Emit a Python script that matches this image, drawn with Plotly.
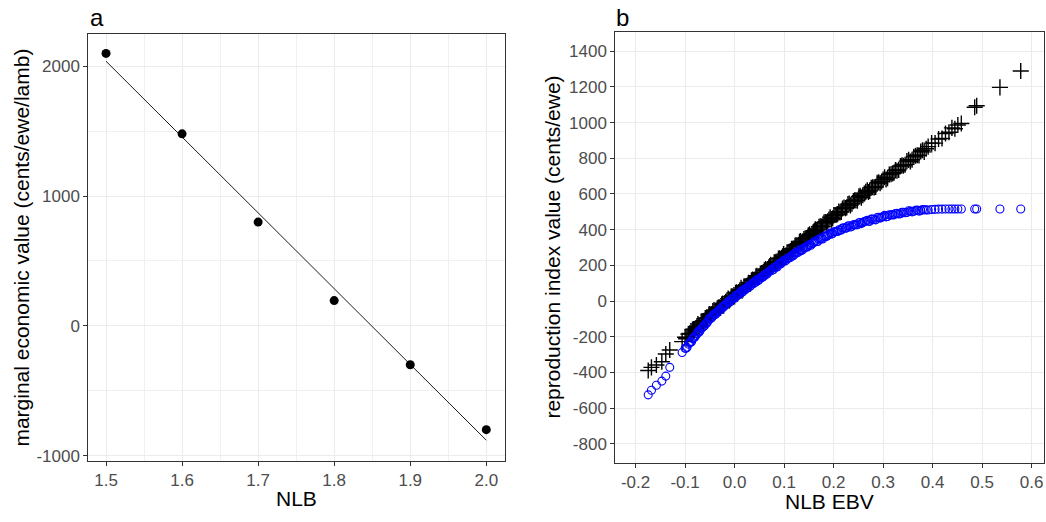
import numpy as np
import plotly.graph_objects as go

# ---------------- panel a data ----------------
nlb = [1.5, 1.6, 1.7, 1.8, 1.9, 2.0]
marginal_value = [2100, 1480, 800, 195, -300, -800]

# ---------------- panel b data ----------------
ebv_low = [-0.1745, -0.168, -0.158, -0.147, -0.139, -0.131, -0.106]
black_low = [-389, -371, -358, -340, -296, -274, -227]
blue_low = [-525, -499, -471, -448, -420, -371, -288]

ebv_main = [
    -0.100, -0.096, -0.091, -0.087, -0.083, -0.078, -0.074, -0.070, -0.065, -0.061,
    -0.057, -0.052, -0.048, -0.044, -0.039, -0.035, -0.031, -0.026, -0.022, -0.018,
    -0.013, -0.009, -0.005, 0.000, 0.004, 0.008, 0.013, 0.017, 0.021, 0.026,
    0.030, 0.034, 0.039, 0.043, 0.047, 0.052, 0.056, 0.060, 0.065, 0.069,
    0.073, 0.078, 0.082, 0.086, 0.091, 0.095, 0.099, 0.104, 0.108, 0.113,
    0.117, 0.122, 0.126, 0.131, 0.135, 0.140, 0.145, 0.149, 0.154, 0.159,
    0.163, 0.168, 0.173, 0.178, 0.183, 0.188, 0.193, 0.198, 0.203, 0.208,
    0.213, 0.218, 0.224, 0.229, 0.234, 0.240, 0.245, 0.251, 0.256, 0.262,
    0.268, 0.273, 0.279, 0.285, 0.291, 0.297, 0.303, 0.309, 0.316, 0.322,
    0.328, 0.335, 0.341, 0.348, 0.355, 0.362, 0.369, 0.376, 0.383, 0.391,
    0.398, 0.405, 0.412, 0.419, 0.426, 0.433, 0.439, 0.445, 0.451, 0.458,
]
black_main = [
    -202, -204, -181, -182, -157, -151, -128, -135, -114, -109,
    -98, -75, -76, -55, -61, -40, -36, -18, -25, -4,
    14, 9, 27, 26, 49, 51, 74, 65, 82, 88,
    96, 117, 118, 139, 130, 153, 157, 173, 168, 189,
    204, 201, 218, 215, 240, 242, 263, 257, 274, 280,
    287, 310, 309, 332, 324, 347, 353, 369, 364, 387,
    402, 399, 419, 418, 443, 447, 470, 464, 482, 487,
    496, 519, 521, 543, 536, 560, 565, 585, 579, 603,
    621, 617, 638, 639, 665, 670, 694, 689, 711, 719,
    730, 756, 758, 784, 782, 808, 817, 838, 836, 865,
    885, 885, 908, 911, 939, 946, 970, 965, 986, 995,
]
blue_main = [
    -264, -259, -234, -228, -205, -192, -171, -168, -147, -138,
    -125, -101, -97, -78, -75, -59, -52, -34, -33, -18,
    -4, -4, 13, 16, 33, 38, 55, 53, 67, 73,
    81, 97, 100, 116, 114, 130, 135, 148, 150, 164,
    175, 176, 191, 191, 210, 214, 229, 228, 240, 245,
    253, 270, 270, 286, 283, 297, 303, 314, 313, 327,
    336, 334, 349, 348, 364, 367, 381, 378, 389, 390,
    396, 409, 408, 421, 415, 427, 428, 439, 434, 445,
    452, 447, 459, 455, 469, 469, 480, 474, 483, 483,
    492, 489, 498, 496, 504, 503, 510, 507, 511, 510,
    513, 514, 515, 515, 516, 516, 516, 516, 516, 516,
]

ebv_mid = [
    -0.098, -0.0935, -0.089, -0.085, -0.0805, -0.076, -0.072, -0.0675, -0.063, -0.059,
    -0.0545, -0.050, -0.046, -0.0415, -0.037, -0.033, -0.0285, -0.024, -0.020, -0.0155,
    -0.011, -0.007, -0.0025, 0.002, 0.006, 0.0105, 0.015, 0.019, 0.0235, 0.028,
    0.032, 0.0365, 0.041, 0.045, 0.0495, 0.054, 0.058, 0.0625, 0.067, 0.071,
    0.0755, 0.080, 0.084, 0.0885, 0.093, 0.097, 0.1015, 0.106, 0.1105, 0.115,
    0.1195, 0.124, 0.1285, 0.133, 0.1375, 0.1425, 0.147, 0.1515, 0.1565, 0.161,
    0.1655, 0.1705, 0.1755, 0.1805, 0.1855, 0.1905, 0.1955, 0.2005, 0.2055, 0.2105,
    0.2155, 0.221, 0.2265, 0.2315, 0.237, 0.2425, 0.248, 0.2535, 0.259, 0.265,
    0.2705, 0.276, 0.282, 0.288, 0.294, 0.300, 0.306, 0.3125, 0.319, 0.325,
    0.3315, 0.338, 0.3445, 0.3515, 0.3585, 0.3655, 0.3725, 0.3795, 0.387,
]
black_mid = [
    -211, -185, -182, -159, -160, -140, -142, -115, -112, -95,
    -95, -72, -73, -50, -53, -36, -38, -13, -12, 5,
    3, 25, 25, 47, 43, 61, 59, 83, 85, 102,
    98, 121, 121, 142, 139, 157, 154, 179, 180, 196,
    194, 217, 216, 238, 235, 251, 249, 274, 276, 293,
    291, 314, 314, 336, 333, 352, 349, 374, 377, 394,
    392, 416, 417, 440, 438, 457, 456, 482, 484, 501,
    499, 524, 525, 547, 545, 564, 563, 590, 593, 612,
    611, 635, 637, 662, 661, 681, 681, 709, 715, 734,
    735, 761, 764, 791, 792, 814, 816, 845, 853,
]
blue_mid = [
    -264, -241, -231, -210, -202, -182, -174, -153, -143, -126,
    -117, -96, -92, -73, -69, -54, -48, -30, -25, -10,
    -6, 10, 14, 31, 31, 46, 49, 65, 70, 83,
    85, 101, 104, 119, 120, 134, 136, 152, 158, 170,
    173, 189, 191, 207, 208, 221, 224, 239, 243, 255,
    257, 272, 274, 288, 288, 301, 303, 317, 321, 332,
    333, 347, 349, 363, 362, 374, 375, 388, 390, 399,
    398, 411, 410, 422, 419, 429, 428, 440, 440, 449,
    447, 459, 457, 468, 465, 474, 472, 483, 483, 491,
    488, 498, 495, 506, 500, 508, 504, 513, 511,
]

ebv_high = [0.485, 0.489, 0.536, 0.578]
black_high = [1086, 1094, 1197, 1289]
blue_high = [516, 516, 516, 516]

ebv = ebv_low + ebv_main + ebv_mid + ebv_high
index_linear = black_low + black_main + black_mid + black_high
index_nonlinear = blue_low + blue_main + blue_mid + blue_high

# ---------------- tick labels ----------------
a_xticks = [1.5, 1.6, 1.7, 1.8, 1.9, 2.0]
a_xticklabels = ["1.5", "1.6", "1.7", "1.8", "1.9", "2.0"]
a_yticks = [-1000, 0, 1000, 2000]
a_yticklabels = ["-1000", "0", "1000", "2000"]
b_xticks = [-0.2, -0.1, 0.0, 0.1, 0.2, 0.3, 0.4, 0.5, 0.6]
b_xticklabels = ["-0.2", "-0.1", "0.0", "0.1", "0.2", "0.3", "0.4", "0.5", "0.6"]
b_yticks = [-800, -600, -400, -200, 0, 200, 400, 600, 800, 1000, 1200, 1400]
b_yticklabels = ["-800", "-600", "-400", "-200", "0", "200", "400", "600",
                 "800", "1000", "1200", "1400"]

# linear fit for panel a
slope, intercept = np.polyfit(nlb, marginal_value, 1)
fit_x = [min(nlb), max(nlb)]
fit_y = [intercept + slope * v for v in fit_x]

FONT = "Liberation Sans, Arial, sans-serif"
W, H = 1046, 522

fig = go.Figure()
fig.add_trace(go.Scatter(x=fit_x, y=fit_y, mode="lines",
                         line=dict(color="black", width=0.9),
                         xaxis="x", yaxis="y", showlegend=False))
fig.add_trace(go.Scatter(x=nlb, y=marginal_value, mode="markers",
                         marker=dict(color="black", size=9),
                         xaxis="x", yaxis="y", showlegend=False))
fig.add_trace(go.Scatter(x=ebv, y=index_linear, mode="markers",
                         marker=dict(symbol="cross-thin-open", size=11.5, color="black",
                                     line=dict(color="black", width=1.4)),
                         xaxis="x2", yaxis="y2", showlegend=False))
fig.add_trace(go.Scatter(x=ebv, y=index_nonlinear, mode="markers",
                         marker=dict(symbol="circle-open", size=8, color="blue",
                                     line=dict(color="blue", width=1.1)),
                         xaxis="x2", yaxis="y2", showlegend=False))

tickfont = dict(family=FONT, size=17, color="#4D4D4D")
common = dict(showline=True, mirror=True, linecolor="#333333", linewidth=1,
              ticks="outside", ticklen=4, tickcolor="#333333", tickwidth=1,
              showgrid=True, gridcolor="#EBEBEB", gridwidth=1, zeroline=False,
              tickfont=tickfont, tickmode="array")

fig.update_layout(
    width=W, height=H,
    margin=dict(l=0, r=0, t=0, b=0),
    paper_bgcolor="white", plot_bgcolor="white",
    xaxis=dict(domain=[88.3 / W, 505 / W], range=[1.4767, 2.0246],
               tickvals=a_xticks, ticktext=a_xticklabels, anchor="y",
               minor=dict(tickvals=[1.55, 1.65, 1.75, 1.85, 1.95], showgrid=True,
                          gridcolor="#F0F0F0", gridwidth=0.6, ticks=""),
               **common),
    yaxis=dict(domain=[(H - 465) / H, (H - 34) / H], range=[-1038, 2252],
               tickvals=a_yticks, ticktext=a_yticklabels, anchor="x",
               minor=dict(tickvals=[-500, 500, 1500], showgrid=True,
                          gridcolor="#F0F0F0", gridwidth=0.6, ticks=""),
               **common),
    xaxis2=dict(domain=[615.3 / W, 1044 / W], range=[-0.241, 0.625],
                tickvals=b_xticks, ticktext=b_xticklabels, anchor="y2", **common),
    yaxis2=dict(domain=[(H - 467) / H, (H - 32.7) / H], range=[-904, 1505],
                tickvals=b_yticks, ticktext=b_yticklabels, anchor="x2", **common),
)

titlefont = dict(family=FONT, size=21, color="black")
ann = [
    dict(text="a", x=88 / W, y=(H - 18) / H, xanchor="left", yanchor="middle",
         font=dict(family=FONT, size=24, color="black")),
    dict(text="b", x=614 / W, y=(H - 18) / H, xanchor="left", yanchor="middle",
         font=dict(family=FONT, size=24, color="black")),
    dict(text="NLB", x=296.7 / W, y=(H - 503) / H, xanchor="center", yanchor="middle",
         font=titlefont),
    dict(text="NLB EBV", x=829.7 / W, y=(H - 506) / H, xanchor="center", yanchor="middle",
         font=titlefont),
    dict(text="marginal economic value (cents/ewe/lamb)", x=22 / W, y=(H - 250) / H,
         xanchor="center", yanchor="middle", textangle=-90, font=titlefont),
    dict(text="reproduction index value (cents/ewe)", x=553 / W, y=(H - 250) / H,
         xanchor="center", yanchor="middle", textangle=-90, font=titlefont),
]
for a in ann:
    a.update(xref="paper", yref="paper", showarrow=False)
fig.update_layout(annotations=ann)

fig.write_html("out.html", config={"displayModeBar": False},
               post_script="document.body.style.margin='0';document.body.style.padding='0';")
